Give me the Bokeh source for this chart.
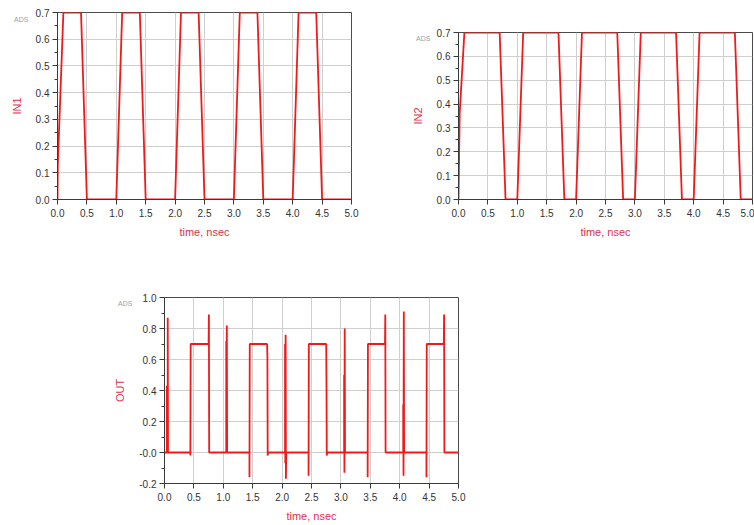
from bokeh.plotting import figure
from bokeh.layouts import column, row
from bokeh.models import (FixedTicker, PrintfTickFormatter, Range1d, LinearAxis,
                          CustomJSTickFormatter)
from bokeh.embed import file_html
from bokeh.resources import INLINE

# ---------------- data ----------------
X_TICKS = [0.0, 0.5, 1.0, 1.5, 2.0, 2.5, 3.0, 3.5, 4.0, 4.5, 5.0]

IN_Y_TICKS = [0.0, 0.1, 0.2, 0.3, 0.4, 0.5, 0.6, 0.7]
IN_Y_MINOR = [0.05, 0.15, 0.25, 0.35, 0.45, 0.55, 0.65]

OUT_Y_TICKS = [-0.2, 0.0, 0.2, 0.4, 0.6, 0.8, 1.0]
OUT_Y_MINOR = [-0.1, 0.1, 0.3, 0.5, 0.7, 0.9]

in1_t = [0.0, 0.005, 0.1, 0.4, 0.5, 1.0, 1.1, 1.4, 1.5, 2.0, 2.1, 2.4, 2.5,
         3.0, 3.1, 3.4, 3.5, 4.0, 4.1, 4.4, 4.5, 5.0]
in1_v = [0.0, 0.13, 0.7, 0.7, 0.0, 0.0, 0.7, 0.7, 0.0, 0.0, 0.7, 0.7, 0.0,
         0.0, 0.7, 0.7, 0.0, 0.0, 0.7, 0.7, 0.0, 0.0]

in2_t = [0.0, 0.02, 0.1, 0.7, 0.8, 1.0, 1.1, 1.7, 1.8, 2.0, 2.1, 2.7, 2.8,
         3.0, 3.1, 3.7, 3.8, 4.0, 4.1, 4.7, 4.8, 5.0]
in2_v = [0.0, 0.36, 0.7, 0.7, 0.0, 0.0, 0.7, 0.7, 0.0, 0.0, 0.7, 0.7, 0.0,
         0.0, 0.7, 0.7, 0.0, 0.0, 0.7, 0.7, 0.0, 0.0]

out_t = [0.0, 0.04, 0.04, 0.045, 0.055, 0.055, 0.06, 0.44, 0.44, 0.445,
         0.75, 0.755, 0.76,
         1.05, 1.05, 1.055, 1.06, 1.065,
         1.445, 1.445, 1.45,
         1.745, 1.75, 1.755, 1.76,
         2.05, 2.05, 2.055, 2.06, 2.065, 2.07,
         2.45, 2.45, 2.455,
         2.75, 2.755, 2.76, 2.765,
         3.055, 3.055, 3.06, 3.065, 3.07,
         3.455, 3.455, 3.46,
         3.75, 3.755, 3.76,
         4.06, 4.06, 4.065, 4.07, 4.075,
         4.455, 4.455, 4.46,
         4.75, 4.755, 4.76,
         5.0]
out_v = [0.0, 0.0, 0.43, 0.0, 0.0, 0.87, 0.0, 0.0, -0.02, 0.7,
         0.7, 0.89, 0.0,
         0.0, 0.72, 0.05, 0.82, 0.0,
         0.0, -0.16, 0.7,
         0.7, 0.62, -0.02, 0.0,
         0.0, 0.70, -0.07, 0.76, -0.17, 0.0,
         0.0, -0.15, 0.7,
         0.7, 0.43, -0.02, 0.0,
         0.0, 0.50, -0.13, 0.80, 0.0,
         0.0, -0.16, 0.7,
         0.7, 0.89, 0.0,
         0.0, 0.31, -0.15, 0.91, 0.0,
         0.0, -0.16, 0.7,
         0.7, 0.89, 0.0,
         0.0]

# ---------------- style ----------------
LINE = "#f01a1a"
LABEL = "#e2304c"
AXIS = "#3a3a3a"
TICK_TXT = "#333333"
GRID = "#cfcfcf"
FONT = "Liberation Sans"


def make(width, height, left, right, top, bottom, y_lo, y_hi, yticks, yminor,
         ylabel, t, v, x_title_standoff, y_title_standoff, ads_y, ads_shift):
    p = figure(width=width, height=height, output_backend="svg",
               toolbar_location=None, title=None,
               x_range=Range1d(0, 5), y_range=Range1d(y_lo, y_hi),
               min_border_left=left, min_border_right=right,
               min_border_top=top, min_border_bottom=bottom)
    p.background_fill_color = "white"
    p.border_fill_color = "white"
    p.outline_line_color = "#4a4a4a"
    p.outline_line_width = 1

    p.line(t, v, line_color=LINE, line_width=1.8)

    p.xaxis.ticker = FixedTicker(ticks=X_TICKS)
    p.yaxis.ticker = FixedTicker(ticks=yticks, minor_ticks=yminor)
    p.xaxis.formatter = PrintfTickFormatter(format="%.1f")
    p.yaxis.formatter = PrintfTickFormatter(format="%.1f")

    p.xgrid.grid_line_color = GRID
    p.ygrid.grid_line_color = GRID

    for ax in (p.xaxis[0], p.yaxis[0]):
        ax.axis_line_color = AXIS
        ax.major_tick_line_color = AXIS
        ax.minor_tick_line_color = AXIS
        ax.major_tick_out = 5
        ax.major_tick_in = 0
        ax.minor_tick_out = 3
        ax.minor_tick_in = 0
        ax.major_label_text_font = FONT
        ax.major_label_text_font_size = "10px"
        ax.major_label_text_color = TICK_TXT
        ax.axis_label_text_font = FONT
        ax.axis_label_text_font_size = "11px"
        ax.axis_label_text_font_style = "normal"
        ax.axis_label_text_color = LABEL
    p.xaxis.minor_tick_line_color = None
    p.xaxis.major_label_standoff = 4
    p.yaxis.major_label_standoff = 3
    p.xaxis.axis_label = "time, nsec"
    p.yaxis.axis_label = ylabel
    p.xaxis.axis_label_standoff = x_title_standoff
    p.yaxis.axis_label_standoff = y_title_standoff

    # small grey "ADS" tag at the upper left, drawn as a bare outer axis label
    ads = LinearAxis(ticker=FixedTicker(ticks=[ads_y], minor_ticks=[]),
                     formatter=CustomJSTickFormatter(code="return 'ADS'"),
                     axis_line_color=None, major_tick_line_color=None,
                     minor_tick_line_color=None,
                     major_tick_out=0, major_tick_in=0,
                     minor_tick_out=0, minor_tick_in=0,
                     major_label_standoff=ads_shift,
                     major_label_text_font=FONT,
                     major_label_text_font_size="7px",
                     major_label_text_color="#a0a0a0")
    p.add_layout(ads, "left")
    return p


p1 = make(404, 259, 57, 53, 12, 60, 0.0, 0.7, IN_Y_TICKS, IN_Y_MINOR, "IN1",
          in1_t, in1_v, 6, 10, 0.674, -21)
p2 = make(350, 239, 54, 2, 12, 40, 0.0, 0.7, IN_Y_TICKS, IN_Y_MINOR, "IN2",
          in2_t, in2_v, 6, 10, 0.674, -22)
p2.margin = (20, 0, 0, 0)
p3 = make(470, 265, 164, 12, 38, 40, -0.2, 1.0, OUT_Y_TICKS, OUT_Y_MINOR, "OUT",
          out_t, out_v, 6, 10, 0.9615, -21)
p3.yaxis[0].major_label_overrides = {0: "-0.0"}

layout = column(row(p1, p2), row(p3))

open("out.html", "w").write(file_html(layout, INLINE))
